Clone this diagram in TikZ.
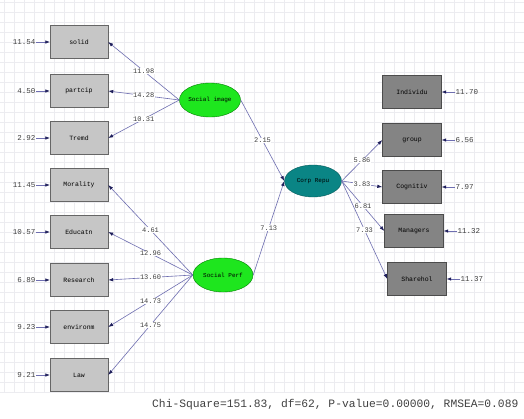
\documentclass[tikz,border=0pt]{standalone}
\usepackage{fontspec}
\setmonofont{Liberation Mono}
\usetikzlibrary{shapes.geometric,arrows.meta}
\definecolor{gridc}{HTML}{ECECF0}
\definecolor{lboxc}{HTML}{C6C6C6}
\definecolor{dboxc}{HTML}{848484}
\definecolor{greenc}{HTML}{1EE61E}
\definecolor{tealc}{HTML}{0A8585}
\definecolor{linec}{HTML}{6E6EB0}
\definecolor{tipc}{HTML}{1E1E5A}
\begin{document}
\begin{tikzpicture}[x=1pt,y=-1pt,
  every node/.style={font=\ttfamily},
  lbox/.style={draw=gray!80!black,fill=lboxc,minimum width=58pt,minimum height=33pt,inner sep=0pt,font=\ttfamily\fontsize{6.5}{7}\selectfont},
  dbox/.style={draw=gray!60!black,fill=dboxc,minimum width=59pt,minimum height=33pt,inner sep=0pt,font=\ttfamily\fontsize{6.5}{7}\selectfont},
  latg/.style={ellipse,draw=green!50!black,fill=greenc,minimum width=60pt,minimum height=34pt,inner sep=0pt,font=\ttfamily\fontsize{6}{7}\selectfont},
  latt/.style={ellipse,draw=tealc!70!black,fill=tealc,minimum width=57pt,minimum height=32pt,inner sep=0pt,font=\ttfamily\fontsize{6}{7}\selectfont},
  conn/.style={draw=linec,line width=0.6pt,-{Latex[length=5pt,width=3.5pt,color=tipc]}},
  plab/.style={fill=white,inner sep=0.5pt,font=\ttfamily\fontsize{7}{8}\selectfont,text=black!75},
  elab/.style={inner sep=0.5pt,font=\ttfamily\fontsize{7.5}{8}\selectfont,text=black!75},
  errc/.style={draw=linec,line width=0.6pt,-{Latex[length=4.5pt,width=3.5pt,color=tipc]}}
]
\useasboundingbox (0,0) rectangle (524,418);
\fill[white] (0,0) rectangle (524,418);
\foreach \x in {4,14,...,524} \draw[gridc,line width=0.4pt] (\x,0) -- (\x,392);
\foreach \y in {2,12,...,392} \draw[gridc,line width=0.4pt] (0,\y) -- (524,\y);

% left indicators
\node[lbox] (solid) at (79,42) {solid};
\node[lbox] (partcip) at (79,91) {partcip};
\node[lbox] (tremd) at (79,138) {Tremd};
\node[lbox] (moral) at (79,185) {Morality};
\node[lbox] (educ) at (79,232) {Educatn};
\node[lbox] (resea) at (79,280) {Research};
\node[lbox] (envir) at (79,327) {environm};
\node[lbox] (law) at (79,375) {Law};

% right indicators
\node[dbox] (indiv) at (412,92) {Individu};
\node[dbox] (group) at (412,140) {group};
\node[dbox] (cogn) at (412,187) {Cognitiv};
\node[dbox] (manag) at (414,231) {Managers};
\node[dbox] (share) at (417,279) {Sharehol};

% latent variables
\node[latg] (simg) at (210,100) {Social image};
\node[latg] (sper) at (223,275) {Social Perf};
\node[latt] (repu) at (313,181) {Corp Repu};

% loadings
\draw[conn] (simg.west) -- node[plab]{11.98} (solid.east);
\draw[conn] (simg.west) -- node[plab]{14.28} (partcip.east);
\draw[conn] (simg.west) -- node[plab]{10.31} (tremd.east);
\draw[conn] (sper.west) -- node[plab]{4.61} (moral.east);
\draw[conn] (sper.west) -- node[plab]{12.96} (educ.east);
\draw[conn] (sper.west) -- node[plab]{13.60} (resea.east);
\draw[conn] (sper.west) -- node[plab]{14.73} (envir.east);
\draw[conn] (sper.west) -- node[plab]{14.75} (law.east);
\draw[conn] (simg.east) -- node[plab]{2.15} (repu.west);
\draw[conn] (sper.east) -- node[plab]{7.13} (repu.west);
\draw[conn] (repu.east) -- node[plab]{5.86} (group.west);
\draw[conn] (repu.east) -- node[plab]{3.83} (cogn.west);
\draw[conn] (repu.east) -- node[plab]{6.81} (manag.west);
\draw[conn] (repu.east) -- node[plab]{7.33} (share.west);

% error variances left
\node[elab,anchor=east] (e1) at (36,42) {11.54};
\node[elab,anchor=east] (e2) at (36,91) {4.50};
\node[elab,anchor=east] (e3) at (36,138) {2.92};
\node[elab,anchor=east] (e4) at (36,185) {11.45};
\node[elab,anchor=east] (e5) at (36,232) {10.57};
\node[elab,anchor=east] (e6) at (36,280) {6.89};
\node[elab,anchor=east] (e7) at (36,327) {9.23};
\node[elab,anchor=east] (e8) at (36,375) {9.21};
\draw[errc] (e1.east) -- (solid.west);
\draw[errc] (e2.east) -- (partcip.west);
\draw[errc] (e3.east) -- (tremd.west);
\draw[errc] (e4.east) -- (moral.west);
\draw[errc] (e5.east) -- (educ.west);
\draw[errc] (e6.east) -- (resea.west);
\draw[errc] (e7.east) -- (envir.west);
\draw[errc] (e8.east) -- (law.west);

% error variances right
\node[elab,anchor=west] (r1) at (455,92) {11.70};
\node[elab,anchor=west] (r2) at (455,140) {6.56};
\node[elab,anchor=west] (r3) at (455,187) {7.97};
\node[elab,anchor=west] (r4) at (457,231) {11.32};
\node[elab,anchor=west] (r5) at (460,279) {11.37};
\draw[errc] (r1.west) -- (indiv.east);
\draw[errc] (r2.west) -- (group.east);
\draw[errc] (r3.west) -- (cogn.east);
\draw[errc] (r4.west) -- (manag.east);
\draw[errc] (r5.west) -- (share.east);

\node[anchor=west,inner sep=0pt,font=\ttfamily\fontsize{11.3}{12}\selectfont,text=black!75] (fit) at (152,405) {Chi-Square=151.83, df=62, P-value=0.00000, RMSEA=0.089};
\end{tikzpicture}
\end{document}
